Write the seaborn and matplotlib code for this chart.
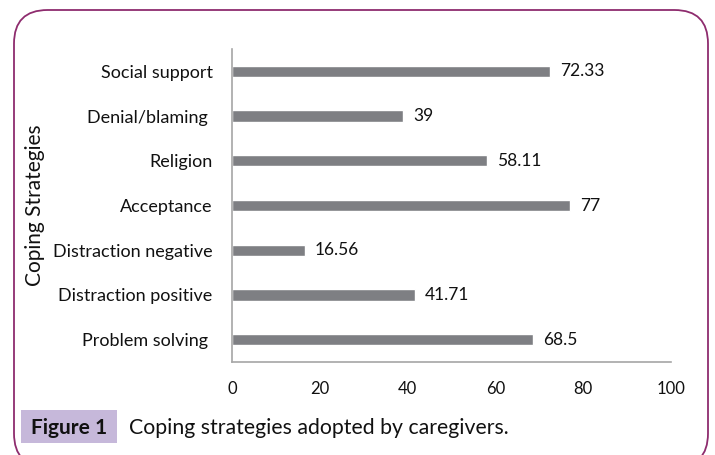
import matplotlib
matplotlib.use("Agg")
import matplotlib.pyplot as plt
import seaborn as sns
import pandas as pd
from matplotlib.patches import FancyBboxPatch

categories = ["Social support", "Denial/blaming ", "Religion", "Acceptance",
              "Distraction negative", "Distraction positive", "Problem solving "]
values = [72.33, 39, 58.11, 77, 16.56, 41.71, 68.5]
value_labels = ["72.33", "39", "58.11", "77", "16.56", "41.71", "68.5"]
xticks = [0, 20, 40, 60, 80, 100]

sns.set_theme(style="white")
plt.rcParams['font.family'] = ['Lato', 'DejaVu Sans']

W, H = 715, 455
fig = plt.figure(figsize=(W / 100, H / 100), dpi=100)
ax = fig.add_axes([232 / W, 1 - 362 / H, (671 - 232) / W, (362 - 49) / H])

df = pd.DataFrame({"cat": categories, "val": values})
sns.barplot(data=df, x="val", y="cat", ax=ax, color="#7E7F83", width=0.25,
            saturation=1, orient="h")

ax.set_xlim(0, 100)
ax.set_ylim(6.5, -0.5)
ax.set_xticks(xticks)
ax.set_xticklabels([str(t) for t in xticks], fontsize=12, color="#111111")
ax.tick_params(axis="x", length=5, width=1, color="#A6A6A6", direction="out", pad=9)
ax.tick_params(axis="y", length=0, pad=14, labelsize=13, labelcolor="#111111")
ax.set_xlabel("")
ax.set_ylabel("Coping Strategies", fontsize=15, color="#111111")
ax.yaxis.set_label_coords(-(232 - 45) / (671 - 232), 0.5)
for s in ["top", "right"]:
    ax.spines[s].set_visible(False)
for s in ["left", "bottom"]:
    ax.spines[s].set_color("#A6A6A6")
    ax.spines[s].set_linewidth(1.2)

for i, (v, lab) in enumerate(zip(values, value_labels)):
    ax.text(v + 2.3, i, lab, va="center", ha="left", fontsize=12.5, color="#111111")

# rounded border
border = FancyBboxPatch((14 / W, -12 / H), (708 - 14) / W, (H + 2) / H,
                        boxstyle="round,pad=0,rounding_size=0.047",
                        transform=fig.transFigure, fill=False,
                        edgecolor="#8E2C6E", linewidth=1.3, mutation_aspect=W / H)
fig.patches.append(border)

# caption
fig.patches.append(plt.Rectangle((21 / W, 1 - 443 / H), (117 - 21) / W, (443 - 410) / H,
                                 transform=fig.transFigure, facecolor="#C6B8DA",
                                 edgecolor="none"))
fig.text(31 / W, 1 - 428 / H, "Figure 1", fontsize=15, fontweight="bold",
         va="center", ha="left", color="#111111")
fig.text(129 / W, 1 - 428 / H, "Coping strategies adopted by caregivers.",
         fontsize=15.3, va="center", ha="left", color="#111111")

fig.savefig("out.png", dpi=100)
